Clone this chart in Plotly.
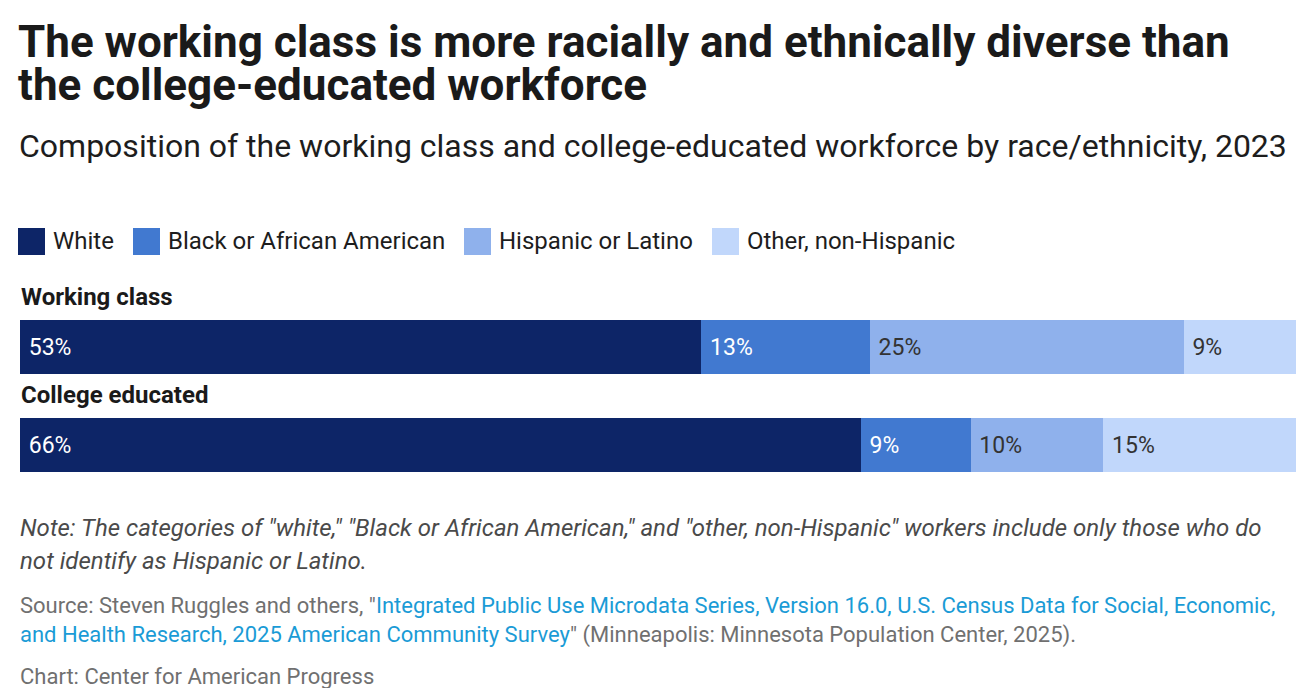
# Stacked 100% bar chart: race/ethnicity of the working class vs college educated workforce.

import plotly.graph_objects as go

# Data (shares of each workforce, in percent).
groups = ["Working class", "College educated"]
races = ["White", "Black or African American", "Hispanic or Latino", "Other, non-Hispanic"]
white = [53.4, 65.9]
black = [13.2, 8.6]
hispanic = [24.6, 10.4]
other = [8.8, 15.1]

# Colours and label colours for each segment.
colors = ["#0d2567", "#4179d0", "#8fb1ec", "#c1d7fb"]
label_colors = ["#ffffff", "#ffffff", "#333333", "#333333"]

title_lines = [
    "The working class is more racially and ethnically diverse than",
    "the college-educated workforce",
]
subtitle = "Composition of the working class and college-educated workforce by race/ethnicity, 2023"
note_lines = [
    'Note: The categories of "white," "Black or African American," and "other, non-Hispanic" workers include only those who do',
    "not identify as Hispanic or Latino.",
]
link = "#1a9bd6"
source_lines = [
    'Source: Steven Ruggles and others, "<span style="color:' + link + '">Integrated Public Use Microdata Series, '
    'Version 16.0, U.S. Census Data for Social, Economic,</span>',
    '<span style="color:' + link + '">and Health Research, 2025 American Community Survey</span>" '
    "(Minneapolis: Minnesota Population Center, 2025).",
]
credit = "Chart: Center for American Progress"

series = [white, black, hispanic, other]

fig = go.Figure()
for name, values, color, label_color in zip(races, series, colors, label_colors):
    fig.add_trace(go.Bar(
        x=values,
        y=groups,
        name=name,
        orientation="h",
        marker=dict(color=color, line=dict(width=0)),
        width=0.551,
        texttemplate="\u00a0%{x:.0f}%",
        textposition="inside",
        insidetextanchor="start",
        textfont=dict(family="Roboto", size=23, color=label_color),
        hoverinfo="skip",
    ))

annotations = []


def add_text(text, yshift, size, color, weight="normal", style="normal", xshift=-2):
    annotations.append(dict(
        text=text, xref="paper", yref="paper", x=0, y=1,
        xanchor="left", yanchor="middle", xshift=xshift, yshift=yshift,
        showarrow=False, align="left",
        font=dict(family="Roboto", size=size, color=color, weight=weight, style=style),
    ))


# Title and subtitle
add_text(title_lines[0], 278, 44, "#1a1a1a", weight="bold", xshift=-4)
add_text(title_lines[1], 235, 44, "#1a1a1a", weight="bold", xshift=-4)
add_text(subtitle, 174, 32, "#1d1d1d", xshift=-3)

# Custom legend with square swatches
legend_x = [-2, 113, 444, 692]
shapes = []
for name, color, x0 in zip(races, colors, legend_x):
    shapes.append(dict(
        type="rect", xref="paper", yref="paper",
        xsizemode="pixel", ysizemode="pixel", xanchor=0, yanchor=1,
        x0=x0, x1=x0 + 27, y0=65, y1=92,
        fillcolor=color, line=dict(width=0),
    ))
    add_text(name, 79, 24, "#1d1d1d", xshift=x0 + 33)

# Row labels above each bar
for group in groups:
    annotations.append(dict(
        text=group, xref="paper", yref="y", x=0, y=group,
        xanchor="left", yanchor="middle", xshift=-1, yshift=50,
        showarrow=False,
        font=dict(family="Roboto", size=24, color="#1a1a1a", weight="bold"),
    ))

# Notes, source and credit
add_text(note_lines[0], -208, 24, "#4a4a4a", style="italic")
add_text(note_lines[1], -241, 24, "#4a4a4a", style="italic")
add_text(source_lines[0], -285, 22, "#707070")
add_text(source_lines[1], -315, 22, "#707070")
add_text(credit, -356, 22, "#707070")

# The page body has an 8px margin, so the figure is a little smaller than the window.
fig.update_layout(
    width=1300,
    height=680,
    barmode="stack",
    showlegend=False,
    plot_bgcolor="white",
    paper_bgcolor="white",
    margin=dict(l=12, r=12, t=312, b=216),
    xaxis=dict(range=[0, 100], visible=False, fixedrange=True),
    yaxis=dict(range=[1.2755, -0.2755], visible=False, fixedrange=True),
    annotations=annotations,
    shapes=shapes,
    font=dict(family="Roboto"),
)

fig.write_html("out.html")
